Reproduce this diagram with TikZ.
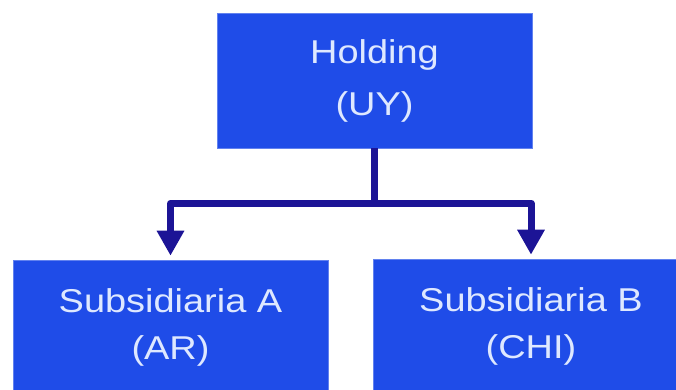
\documentclass[tikz,border=0pt]{standalone}
\usepackage{fontspec}
\newfontfamily\boxfont[FakeStretch=1.15]{Liberation Sans}
\usetikzlibrary{arrows.meta}
\definecolor{boxblue}{RGB}{31,76,232}
\definecolor{boxtext}{RGB}{222,232,255}
\definecolor{connblue}{RGB}{28,20,150}
\tikzset{
  orgbox/.style={fill=boxblue, draw=boxblue!70!white, line width=0.6pt, text=boxtext,
    minimum width=315pt, minimum height=135pt, inner sep=0pt, align=center},
  conn/.style={draw=connblue, line width=7pt, line join=round},
  arr/.style={-{Triangle[width=26pt,length=25pt]}}
}
\begin{document}
\begin{tikzpicture}[x=1pt,y=1pt]
\useasboundingbox (0,0) rectangle (676,390);
\clip (0,0) rectangle (676,390);
\node[orgbox, font={\boxfont\fontsize{33}{52}\selectfont}] (top) at (374.5,309.5) {Holding\\(UY)};
\node[orgbox, font={\boxfont\fontsize{33}{47}\selectfont}] (subA) at (170.5,62.5) {Subsidiaria A\\(AR)};
\node[orgbox, font={\boxfont\fontsize{33}{47}\selectfont}] (subB) at (531,63.5) {Subsidiaria B\\(CHI)};
\draw[conn] (top.south) -- ++(0,-55) coordinate (j);
\draw[conn, arr] (j) -| ([yshift=4pt]subA.north);
\draw[conn, arr] (j) -| ([yshift=4pt]subB.north);
\end{tikzpicture}
\end{document}
